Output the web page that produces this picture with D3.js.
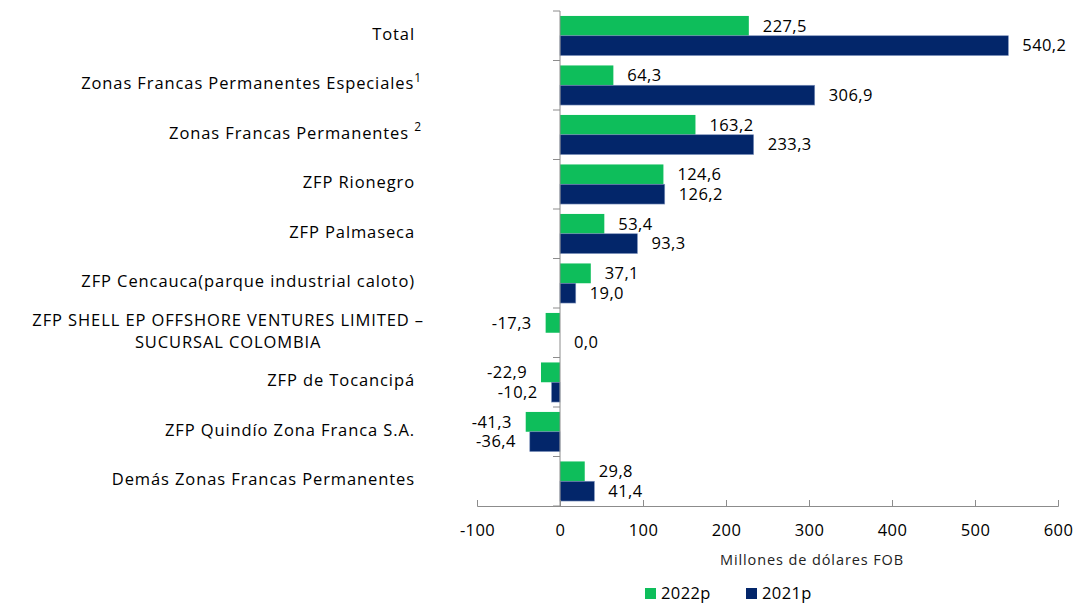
<!DOCTYPE html>
<html lang="es">
<head>
<meta charset="UTF-8">
<title>Zonas Francas</title>
<script src="https://cdn.jsdelivr.net/npm/d3@7"></script>
<style>
    html, body {
        margin: 0;
        background: #fff;
        font-family: "Open Sans", sans-serif;
    }
    .axis text { font-size: 16.5px; letter-spacing: 0.4px; fill: #000; font-family: "Open Sans", sans-serif; }
    .axis path, .axis line { stroke: #8c8c8c; }
    .cat { font-size: 16.5px; letter-spacing: 0.9px; fill: #000; }
    .val { font-size: 16.5px; letter-spacing: 0.4px; fill: #000; }
</style>
</head>
<body>
<div id="chart"></div>
<script>
    var categories = [
        "Total",
        "Zonas Francas Permanentes Especiales",
        "Zonas Francas Permanentes ",
        "ZFP Rionegro",
        "ZFP Palmaseca",
        "ZFP Cencauca(parque industrial caloto)",
        "ZFP SHELL EP OFFSHORE VENTURES LIMITED \u2013|SUCURSAL COLOMBIA",
        "ZFP de Tocancipá",
        "ZFP Quindío Zona Franca S.A.",
        "Demás Zonas Francas Permanentes"
    ];
    var superscripts = ["", "1", "2", "", "", "", "", "", "", ""];
    var series = ["2022p", "2021p"];
    var values2022 = [227.5, 64.3, 163.2, 124.6, 53.4, 37.1, -17.3, -22.9, -41.3, 29.8];
    var values2021 = [540.2, 306.9, 233.3, 126.2, 93.3, 19.0, 0.0, -10.2, -36.4, 41.4];
    var xTicks = [-100, 0, 100, 200, 300, 400, 500, 600];
    var colors = ["#0ebe5b", "#03266a"];

    var width = 1075, height = 603;
    var margin = {top: 11, left: 477, right: 17, bottom: 97};

    var locale = d3.formatLocale({decimal: ",", thousands: ".", grouping: [3], currency: ["", ""], minus: "-"});
    var fmt = locale.format('.1f');

    var svg = d3.select('#chart').append('svg')
        .attr('width', width)
        .attr('height', height);

    var x = d3.scaleLinear()
        .domain([-100, 600])
        .range([margin.left, width - margin.right]);

    var y = d3.scaleBand()
        .domain(categories)
        .range([margin.top, height - margin.bottom])
        .paddingInner(0.2)
        .paddingOuter(0.1);

    var sub = d3.scaleBand()
        .domain(series)
        .range([0, y.bandwidth()]);

    var rows = categories.map(function(c, i) {
        return {cat: c, sup: superscripts[i], vals: [values2022[i], values2021[i]]};
    });

    // bars
    var groups = svg.selectAll('.row')
        .data(rows)
        .enter()
        .append('g')
        .attr('class', 'row')
        .attr('transform', function(d){ return 'translate(0,' + y(d.cat) + ')'; });

    groups.selectAll('rect')
        .data(function(d){ return d.vals.map(function(v, j){ return {v: v, s: series[j], j: j}; }); })
        .enter()
        .append('rect')
        .attr('x', function(d){ return x(Math.min(0, d.v)); })
        .attr('y', function(d){ return sub(d.s); })
        .attr('width', function(d){ return Math.abs(x(d.v) - x(0)); })
        .attr('height', sub.bandwidth())
        .attr('fill', function(d){ return colors[d.j]; })
        .attr('stroke', function(d){ return d.j === 1 ? '#7f93bd' : 'none'; })
        .attr('stroke-width', 0.6);

    // value labels
    groups.selectAll('.val')
        .data(function(d){ return d.vals.map(function(v, j){ return {v: v, s: series[j]}; }); })
        .enter()
        .append('text')
        .attr('class', 'val')
        .attr('x', function(d){ return d.v < 0 ? x(d.v) - 14 : x(d.v) + 14; })
        .attr('y', function(d){ return sub(d.s) + sub.bandwidth() / 2; })
        .attr('dy', '0.35em')
        .attr('text-anchor', function(d){ return d.v < 0 ? 'end' : 'start'; })
        .text(function(d){ return fmt(d.v); });

    // x axis
    var xAxis = d3.axisBottom(x)
        .tickValues(xTicks)
        .tickSize(-6)
        .tickPadding(18)
        .tickFormat(function(d){ return String(d); });

    svg.append('g')
        .attr('class', 'x axis')
        .attr('transform', 'translate(0,' + (height - margin.bottom) + ')')
        .call(xAxis);

    // y axis line with boundary ticks
    var yAxis = svg.append('g').attr('class', 'y axis');
    yAxis.append('line')
        .attr('x1', x(0)).attr('x2', x(0))
        .attr('y1', margin.top).attr('y2', height - margin.bottom)
        .attr('stroke', '#8c8c8c');
    var bounds = categories.map(function(c){ return y(c) - y.step() * 0.1; });
    bounds.push(height - margin.bottom);
    yAxis.selectAll('.tk')
        .data(bounds)
        .enter()
        .append('line')
        .attr('x1', x(0) - 7).attr('x2', x(0))
        .attr('y1', function(d){ return d; }).attr('y2', function(d){ return d; })
        .attr('stroke', '#8c8c8c');

    // category labels
    var labelX = 415;
    rows.forEach(function(d) {
        var cy = y(d.cat) + y.bandwidth() / 2 - 2;
        var lines = d.cat.split('|');
        if (lines.length === 1) {
            var t = svg.append('text')
                .attr('class', 'cat')
                .attr('x', labelX + (d.sup ? 7 : 0))
                .attr('y', cy)
                .attr('dy', '0.35em')
                .attr('text-anchor', 'end')
                .text(lines[0]);
            if (d.sup) {
                t.append('tspan')
                    .attr('dy', '-0.6em')
                    .style('font-size', '12px')
                    .text(d.sup);
            }
        } else {
            var first = svg.append('text')
                .attr('class', 'cat')
                .attr('x', labelX + 9)
                .attr('y', cy - 11)
                .attr('dy', '0.35em')
                .attr('text-anchor', 'end')
                .text(lines[0]);
            var w = first.node().getComputedTextLength();
            svg.append('text')
                .attr('class', 'cat')
                .attr('x', labelX + 9 - w / 2)
                .attr('y', cy + 11)
                .attr('dy', '0.35em')
                .attr('text-anchor', 'middle')
                .text(lines[1]);
        }
    });

    // axis title
    svg.append('text')
        .attr('x', 812)
        .attr('y', 560)
        .attr('dy', '0.35em')
        .attr('text-anchor', 'middle')
        .style('font-size', '14.5px')
        .style('letter-spacing', '0.9px')
        .style('fill', '#222')
        .text('Millones de dólares FOB');

    // legend
    var legend = svg.append('g').attr('transform', 'translate(645,588)');
    series.forEach(function(s, i) {
        var g = legend.append('g').attr('transform', 'translate(' + (i * 101) + ',0)');
        g.append('rect').attr('width', 11).attr('height', 11).attr('fill', colors[i]);
        g.append('text')
            .attr('x', 16)
            .attr('y', 5.5)
            .attr('dy', '0.35em')
            .style('font-size', '16.5px')
            .style('letter-spacing', '0.4px')
            .text(s);
    });
</script>
</body>
</html>
